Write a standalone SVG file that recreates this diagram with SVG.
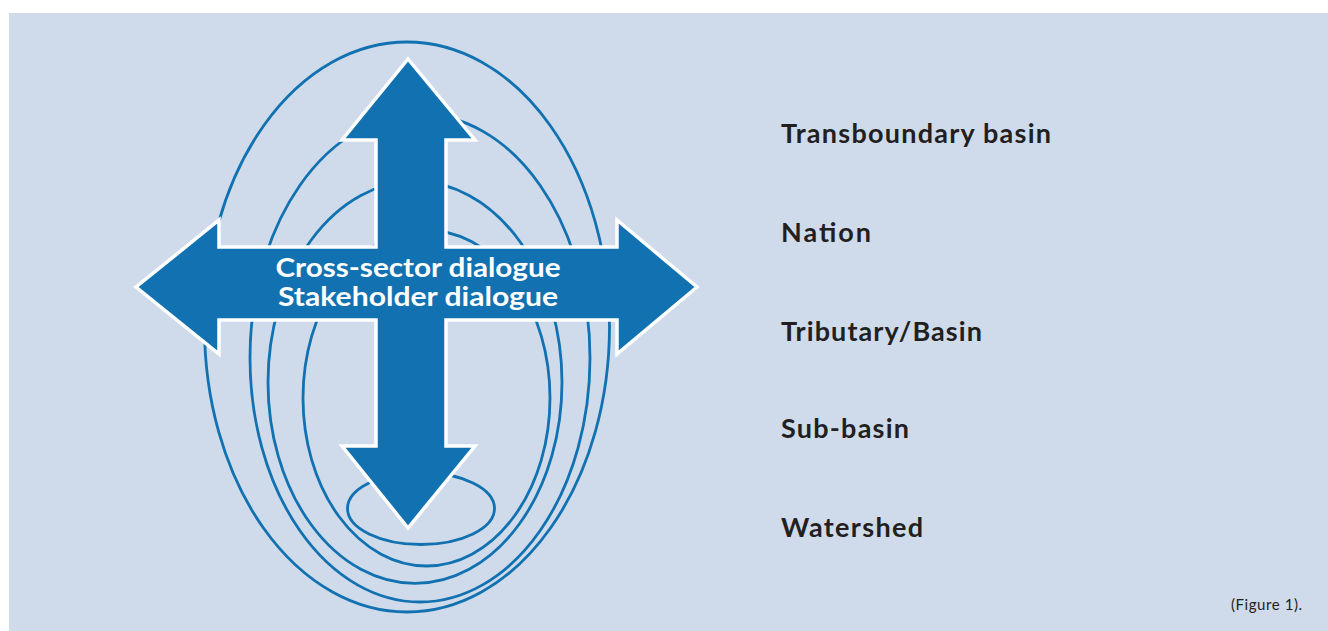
<svg xmlns="http://www.w3.org/2000/svg" width="1328" height="631" viewBox="0 0 1328 631">
<style>
.ring{fill:none;stroke:#1271b1;stroke-width:2.8}
.lbl{font-family:Lato,"Open Sans",sans-serif;font-weight:700;font-size:27px;fill:#231f20}
.dlg{font-family:Lato,"Open Sans",sans-serif;font-weight:700;font-size:26.5px;fill:#ffffff;text-anchor:middle}
.cap{font-family:Lato,"Open Sans",sans-serif;font-size:15px;fill:#231f20}
</style>
<rect x="0" y="0" width="1328" height="631" fill="#ffffff"/>
<rect x="9" y="13" width="1319" height="618" fill="#cfdbea"/>
<g id="transboundary-basin"><ellipse class="ring" cx="407" cy="327" rx="202.5" ry="285"/></g>
<g id="nation"><ellipse class="ring" cx="420" cy="358" rx="170" ry="244"/></g>
<g id="tributary-basin"><ellipse class="ring" cx="415" cy="382.4" rx="147" ry="201"/></g>
<g id="sub-basin"><ellipse class="ring" cx="426.5" cy="398" rx="123.5" ry="168"/></g>
<g id="watershed"><ellipse class="ring" cx="421" cy="508.5" rx="73.5" ry="36"/></g>
<g id="connectors">
<path d="M408,59 L475,140 L446,140 L446,247 L617,247 L617,220 L697,287 L617,354 L617,320 L446,320 L446,446 L475,446 L408,528 L342,446 L376,446 L376,320 L219,320 L219,354 L136,287 L219,220 L219,247 L376,247 L376,140 L342,140 Z" fill="#1271b1" stroke="#ffffff" stroke-width="3.5" stroke-linejoin="miter"/>
</g>
<g id="dialogue">
<text class="dlg" x="418" y="277" textLength="285" lengthAdjust="spacingAndGlyphs">Cross-sector dialogue</text>
<text class="dlg" x="418" y="306" textLength="280" lengthAdjust="spacingAndGlyphs">Stakeholder dialogue</text>
</g>
<g id="labels">
<text class="lbl" x="781" y="143" textLength="270">Transboundary basin</text>
<text class="lbl" x="781" y="242" textLength="90">Nation</text>
<text class="lbl" x="781" y="341" textLength="201">Tributary/Basin</text>
<text class="lbl" x="781" y="438" textLength="128">Sub-basin</text>
<text class="lbl" x="781" y="537" textLength="142">Watershed</text>
</g>
<text class="cap" x="1231" y="610" textLength="71">(Figure 1).</text>
</svg>
